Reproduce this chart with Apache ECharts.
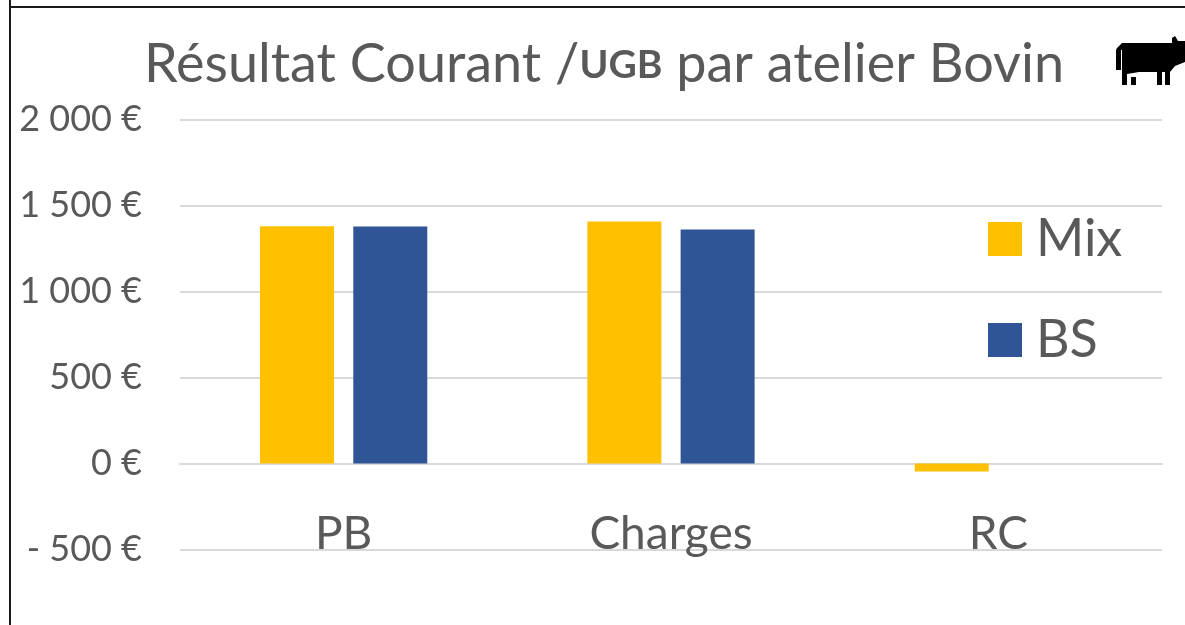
<!DOCTYPE html>
<html><head><meta charset="utf-8">
<style>html,body{margin:0;padding:0;background:#fff}#c{width:1185px;height:625px}</style>
<script src="https://cdn.jsdelivr.net/npm/echarts@6/dist/echarts.min.js"></script>
</head><body><div id="c"></div>
<script>
const categories = ['PB', 'Charges', 'RC'];
const mixValues = [1380, 1407, -47];
const bsValues = [1378, 1360, 0];
const seriesNames = ['Mix', 'BS'];
const colors = ['#FFC000', '#2F5597'];
const grey = '#595959';
const font = 'Lato, "Open Sans", sans-serif';
const chart = echarts.init(document.getElementById('c'), null, {renderer: 'canvas'});
chart.setOption({
  animation: false,
  backgroundColor: '#fff',
  title: {
    text: '{a|Résultat Courant /}{b|UGB}{a| par atelier Bovin}',
    left: 599, top: 33, textAlign: 'center',
    textStyle: {
      rich: {
        a: {fontFamily: font, fontSize: 54, color: grey, fontWeight: 'normal'},
        b: {fontFamily: font, fontSize: 39, color: grey, fontWeight: 'bold'}
      }
    }
  },
  legend: {
    data: seriesNames, orient: 'vertical', left: 983, top: 208,
    itemWidth: 34, itemHeight: 34, itemGap: 49, icon: 'rect',
    textStyle: {fontFamily: font, fontSize: 52, color: grey, padding: [0, 0, 0, 9]}
  },
  grid: {left: 180, right: 23, top: 119.5, height: 430, outerBoundsMode: 'none'},
  xAxis: {
    type: 'category', data: categories,
    axisLine: {show: true, lineStyle: {color: '#D9D9D9', width: 2}},
    axisTick: {show: false},
    axisLabel: {fontFamily: font, fontSize: 46, color: grey, margin: -38, interval: 0}
  },
  yAxis: {
    type: 'value', min: -500, max: 2000, interval: 500,
    axisLine: {show: false}, axisTick: {show: false},
    splitLine: {lineStyle: {color: '#D9D9D9', width: 2}},
    axisLabel: {
      fontFamily: font, fontSize: 36, color: grey, margin: 38,
      formatter: v => (v < 0 ? '- ' : '') + String(Math.abs(v)).replace(/\B(?=(\d{3})+$)/g, ' ') + ' €'
    }
  },
  series: [
    {name: seriesNames[0], type: 'bar', data: mixValues, barWidth: 74, barGap: '26%', itemStyle: {color: colors[0]}},
    {name: seriesNames[1], type: 'bar', data: bsValues, barWidth: 74, barGap: '26%', itemStyle: {color: colors[1]}}
  ],
  graphic: [
    {type: 'rect', silent: true, shape: {x: 10, y: 7, width: 1300, height: 800}, style: {fill: 'none', stroke: '#1a1a1a', lineWidth: 2}},
    {type: 'line', silent: true, shape: {x1: 10, y1: 0, x2: 10, y2: 8}, style: {stroke: '#1a1a1a', lineWidth: 2}},
    {type: 'polygon', silent: true, shape: {points: [[1117,48],[1122,43],[1172,43],[1172,38],[1175,36],[1178,41],[1185,41],[1185,62],[1175,66],[1170,72],[1170,85],[1165,85],[1165,72],[1162,72],[1162,85],[1157,85],[1157,72],[1139,72],[1127,74],[1127,85],[1122,85],[1122,50],[1121,50],[1121,70],[1116,70],[1116,50]]}, style: {fill: '#000'}},
    {type: 'polygon', silent: true, shape: {points: [[1131,77],[1136,77],[1136,85],[1131,85]]}, style: {fill: '#000'}}
  ]
});
</script></body></html>
